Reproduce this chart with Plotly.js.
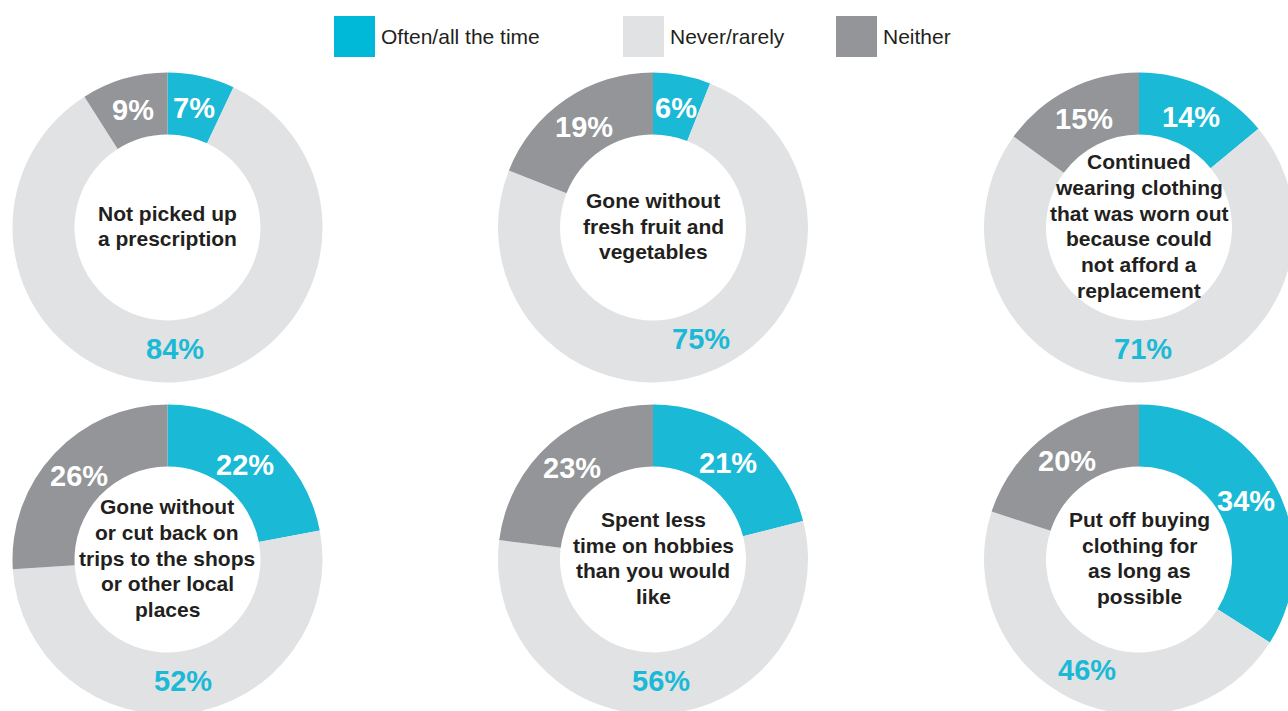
<!DOCTYPE html>
<html>
<head>
<meta charset="utf-8">
<script src="https://cdn.plot.ly/plotly-3.0.1.min.js"></script>
<style>
html, body { margin: 0; padding: 0; overflow: hidden; background: #ffffff; }
#chart { width: 1300px; height: 720px; }
</style>
</head>
<body>
<div id="chart"></div>
<script>
// ---- data ----
const questions = [
  'Not picked up<br>a prescription',
  'Gone without<br>fresh fruit and<br>vegetables',
  'Continued<br>wearing clothing<br>that was worn out<br>because could<br>not afford a<br>replacement',
  'Gone without<br>or cut back on<br>trips to the shops<br>or other local<br>places',
  'Spent less<br>time on hobbies<br>than you would<br>like',
  'Put off buying<br>clothing for<br>as long as<br>possible'
];
const oftenValues   = [7, 6, 14, 22, 21, 34];
const neverValues   = [84, 75, 71, 52, 56, 46];
const neitherValues = [9, 19, 15, 26, 23, 20];
const seriesNames   = ['Often/all the time', 'Never/rarely', 'Neither'];

// ---- styles ----
const seriesColors = ['#1ab9d6', '#e1e2e4', '#939598'];
const legendColors = ['#00b9d8', '#e1e2e4', '#939598'];
const labelColors  = ['#ffffff', '#1ab9d6', '#ffffff'];
const FONT = 'Liberation Sans, Arial, Helvetica, sans-serif';
const W = 1300, H = 720;
const R = 155;
const HOLE = 0.6;
const LABEL_R = 122;
const colCenters = [167.5, 653, 1139];
const rowCenters = [227.5, 559.5];
const centerFontSize = 21;
const centerLineGap = 25.7;
const labelFontSize = 29;

const traces = [];
const annotations = [];

questions.forEach((q, i) => {
  const cx = colCenters[i % 3];
  const cy = rowCenters[Math.floor(i / 3)];
  const vals = [oftenValues[i], neverValues[i], neitherValues[i]];
  traces.push({
    type: 'pie',
    values: vals,
    labels: seriesNames,
    sort: false,
    direction: 'clockwise',
    rotation: 0,
    hole: HOLE,
    marker: { colors: seriesColors, line: { width: 0 } },
    textinfo: 'none',
    hoverinfo: 'none',
    showlegend: false,
    domain: {
      x: [(cx - R) / W, (cx + R) / W],
      y: [1 - (cy + R) / H, 1 - (cy - R) / H]
    }
  });

  // percentage labels at the middle of each ring segment
  const total = vals.reduce((a, b) => a + b, 0);
  let cum = 0;
  vals.forEach((v, k) => {
    const mid = (cum + v / 2) / total * 2 * Math.PI;
    cum += v;
    const px = cx + LABEL_R * Math.sin(mid);
    const py = cy - LABEL_R * Math.cos(mid);
    annotations.push({
      xref: 'paper', yref: 'paper',
      x: px / W, y: 1 - py / H,
      xanchor: 'center', yanchor: 'middle',
      text: v + '%', showarrow: false,
      font: { family: FONT, size: labelFontSize, color: labelColors[k], weight: 'bold' }
    });
  });

  // centre question text, one annotation per line
  const lines = q.split('<br>');
  lines.forEach((ln, j) => {
    const ly = cy - 1.5 + (j - (lines.length - 1) / 2) * centerLineGap;
    annotations.push({
      xref: 'paper', yref: 'paper',
      x: cx / W, y: 1 - ly / H,
      xanchor: 'center', yanchor: 'middle',
      text: ln, showarrow: false,
      font: { family: FONT, size: centerFontSize, color: '#231f20', weight: 'bold' }
    });
  });
});

// legend drawn as boxes + text
const legendX = [334, 623, 836];
const boxSize = 41;
const legendTop = 16;
const shapes = seriesNames.map((n, k) => ({
  type: 'rect', xref: 'paper', yref: 'paper',
  x0: legendX[k] / W, x1: (legendX[k] + boxSize) / W,
  y0: 1 - (legendTop + boxSize) / H, y1: 1 - legendTop / H,
  fillcolor: legendColors[k], line: { width: 0 }
}));
seriesNames.forEach((n, k) => {
  annotations.push({
    xref: 'paper', yref: 'paper',
    x: (legendX[k] + boxSize + 4) / W, y: 1 - (legendTop + boxSize / 2) / H,
    xanchor: 'left', yanchor: 'middle',
    text: n, showarrow: false,
    font: { family: FONT, size: 21, color: '#231f20' }
  });
});

const layout = {
  width: W, height: H,
  margin: { l: 0, r: 0, t: 0, b: 0 },
  paper_bgcolor: '#ffffff',
  plot_bgcolor: '#ffffff',
  showlegend: false,
  shapes: shapes,
  annotations: annotations,
  font: { family: FONT }
};

Plotly.newPlot('chart', traces, layout, { displayModeBar: false, staticPlot: true });
</script>
</body>
</html>
